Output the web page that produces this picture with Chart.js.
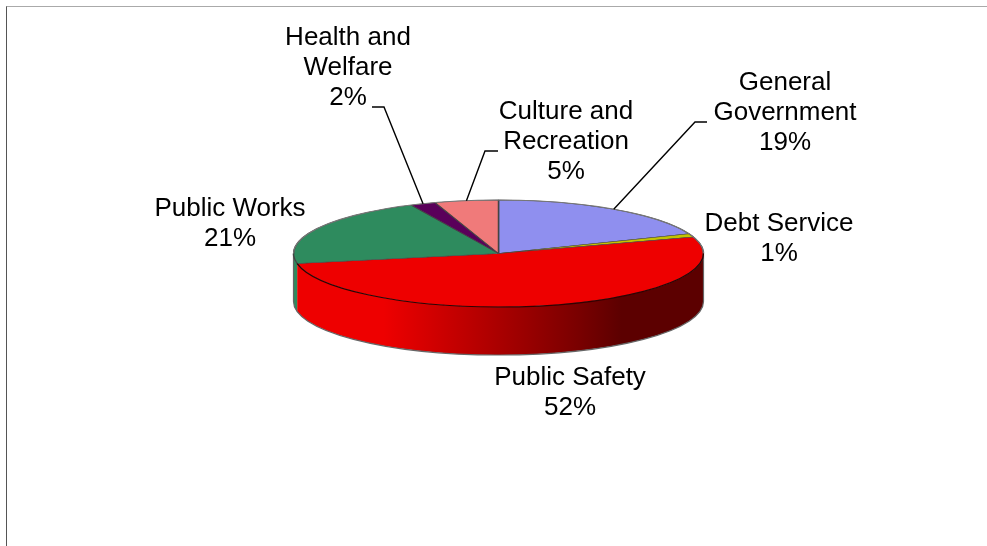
<!DOCTYPE html>
<html>
<head>
<meta charset="utf-8">
<title>Expenditures by function</title>
<script src="https://cdn.jsdelivr.net/npm/chart.js@4/dist/chart.umd.js"></script>
<style>
	html, body { margin: 0; padding: 0; background: #fff; overflow: hidden; }
	#frame { position: absolute; left: 6px; top: 6px; right: 0; bottom: 0; border-top: 1px solid #aaa; border-left: 1px solid #555; }
	#expenses { position: absolute; left: 0; top: 0; }
</style>
</head>
<body>
<div id="frame"></div>
<canvas id="expenses" width="987" height="546"></canvas>
<script>
const categories = ['General Government', 'Debt Service', 'Public Safety', 'Public Works', 'Health and Welfare', 'Culture and Recreation'];
const percents = [19, 1, 52, 21, 2, 5];

const sliceColors = ['#8f8fef', '#c4c400', '#ee0000', '#2e8b5e', '#5a005a', '#f07a7a'];
const labelLines = [['General', 'Government'], ['Debt Service'], ['Public Safety'], ['Public Works'], ['Health and', 'Welfare'], ['Culture and', 'Recreation']];
const labelCenters = [[785, 83], [779, 224], [570, 378], [230, 209], [348, 38], [566, 112]];
// leader elbows: [elbow x, elbow y, end x], null where the label has no leader
const leaders = [[695, 122, 707], null, null, null, [384, 107, 372], [485, 151, 498]];

const RADIUS = 205;
const SQUASH = 53.5 / 205;
const DEPTH = 48;
const FONT = '26px "Liberation Sans", Arial, sans-serif';
const LINE_HEIGHT = 30;

// shading along the front wall, left to right
function wallFill(ctx, cx, index) {
	const grad = ctx.createLinearGradient(cx - RADIUS, 0, cx + RADIUS, 0);
	if (index == 2) {
		grad.addColorStop(0, '#ee0000');
		grad.addColorStop(0.22, '#ee0000');
		grad.addColorStop(0.46, '#b40000');
		grad.addColorStop(0.7, '#780000');
		grad.addColorStop(0.8, '#5c0000');
		grad.addColorStop(1, '#5c0000');
		return grad;
	}
	return sliceColors[index];
}

const tiltPlugin = {
	id: 'tilt',
	beforeDatasetsDraw(chart) {
		const ctx = chart.ctx;
		const arcs = chart.getDatasetMeta(0).data;
		const cx = arcs[0].x, cy = arcs[0].y;
		const ry = RADIUS * SQUASH;

		// only the part of each slice facing the viewer gets a wall
		ctx.save();
		arcs.forEach(function(arc, i) {
			const from = Math.max(arc.startAngle, 0);
			const to = Math.min(arc.endAngle, Math.PI);
			if (to <= from) return;
			ctx.beginPath();
			ctx.ellipse(cx, cy, RADIUS, ry, 0, from, to);
			ctx.ellipse(cx, cy + DEPTH, RADIUS, ry, 0, to, from, true);
			ctx.closePath();
			ctx.fillStyle = wallFill(ctx, cx, i);
			ctx.fill();
		});

		ctx.beginPath();
		ctx.moveTo(cx - RADIUS, cy);
		ctx.lineTo(cx - RADIUS, cy + DEPTH);
		ctx.ellipse(cx, cy + DEPTH, RADIUS, ry, 0, Math.PI, 0, true);
		ctx.lineTo(cx + RADIUS, cy);
		ctx.strokeStyle = '#666';
		ctx.lineWidth = 1.2;
		ctx.stroke();
		ctx.restore();

		ctx.save();
		ctx.translate(cx, cy);
		ctx.scale(1, SQUASH);
		ctx.translate(-cx, -cy);
	},
	afterDatasetsDraw(chart) {
		const ctx = chart.ctx;
		const arcs = chart.getDatasetMeta(0).data;
		const cx = arcs[0].x, cy = arcs[0].y;
		const ry = RADIUS * SQUASH;
		ctx.restore();

		// rim of the top face: soft at the back, dark at the front
		ctx.save();
		ctx.lineWidth = 1.2;
		ctx.strokeStyle = '#777';
		ctx.beginPath();
		ctx.ellipse(cx, cy, RADIUS, ry, 0, Math.PI, 2 * Math.PI);
		ctx.stroke();
		ctx.strokeStyle = '#300';
		ctx.beginPath();
		ctx.ellipse(cx, cy, RADIUS, ry, 0, 0, arcs[2].endAngle);
		ctx.stroke();
		ctx.restore();
	},
	afterDraw(chart) {
		const ctx = chart.ctx;
		const arcs = chart.getDatasetMeta(0).data;
		const ry = RADIUS * SQUASH;

		ctx.save();
		ctx.strokeStyle = '#000';
		ctx.lineWidth = 1.4;
		arcs.forEach(function(arc, i) {
			if (!leaders[i]) return;
			const mid = (arc.startAngle + arc.endAngle) / 2;
			ctx.beginPath();
			ctx.moveTo(arc.x + RADIUS * Math.cos(mid), arc.y + ry * Math.sin(mid));
			ctx.lineTo(leaders[i][0], leaders[i][1]);
			ctx.lineTo(leaders[i][2], leaders[i][1]);
			ctx.stroke();
		});

		ctx.font = FONT;
		ctx.fillStyle = '#000';
		ctx.textAlign = 'center';
		ctx.textBaseline = 'middle';
		categories.forEach(function(name, i) {
			const lines = labelLines[i].concat(percents[i] + '%');
			lines.forEach(function(line, j) {
				ctx.fillText(line, labelCenters[i][0], labelCenters[i][1] + j * LINE_HEIGHT);
			});
		});
		ctx.restore();
	}
};

const myChart = new Chart(document.getElementById('expenses'), {
	type: 'pie',
	data: {
		labels: categories,
		datasets: [{
			data: percents,
			backgroundColor: sliceColors,
			borderColor: '#444',
			borderWidth: 1.5,
			radius: RADIUS
		}]
	},
	options: {
		responsive: false,
		animation: false,
		layout: { padding: { left: 10, bottom: 39 } },
		plugins: {
			legend: { display: false },
			tooltip: { enabled: false }
		}
	},
	plugins: [tiltPlugin]
});
</script>
</body>
</html>
